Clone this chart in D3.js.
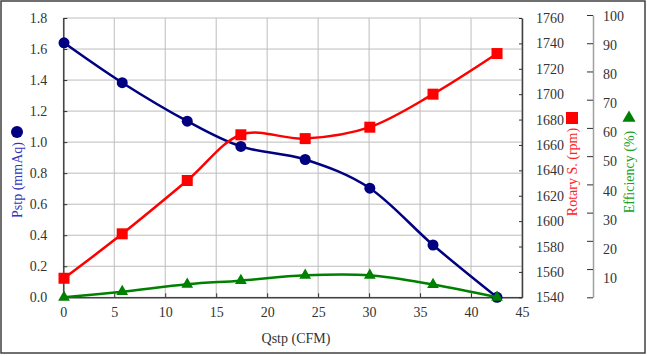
<!DOCTYPE html>
<html><head><meta charset="utf-8">
<script src="https://cdn.jsdelivr.net/npm/d3@7"></script>
<style>
body{margin:0;background:#fff}
svg{display:block}
text{font-family:"Liberation Serif","Times New Roman",serif}
</style>
</head><body>
<svg id="c" width="647" height="356"></svg>
<script>
// ---- data ----
const qstp = [0.07, 5.78, 12.16, 17.42, 23.73, 30.07, 36.27, 42.55];
const pstp = [1.64, 1.383, 1.135, 0.972, 0.888, 0.703, 0.337, 0.0];
const rotary = [1555, 1590, 1632, 1668, 1665, 1674, 1700, 1732];
const efficiency = [0, 2.0, 4.6, 5.9, 7.8, 7.8, 4.5, 0];
const xTicks = [0, 5, 10, 15, 20, 25, 30, 35, 40, 45];
const pTicks = [0, 0.2, 0.4, 0.6, 0.8, 1.0, 1.2, 1.4, 1.6, 1.8];
const rTicks = [1540, 1560, 1580, 1600, 1620, 1640, 1660, 1680, 1700, 1720, 1740, 1760];
const eTicks = [0, 10, 20, 30, 40, 50, 60, 70, 80, 90, 100];
const eLabels = [10, 20, 30, 40, 50, 60, 70, 80, 90, 100];

const FONT = '"Liberation Serif","Times New Roman",serif';
const svg = d3.select("#c");
const L = 63.3, R = 522, T = 18, B = 297.3;
const x = d3.scaleLinear().domain([0, 45]).range([L, R]);
const yP = d3.scaleLinear().domain([0, 1.8]).range([B, T]);
const yR = d3.scaleLinear().domain([1540, 1760]).range([B, T]);
const yE = d3.scaleLinear().domain([0, 100]).range([B, 15]);
const yELab = d3.scaleLinear().domain([0, 100]).range([307, 16]);

// outer frame
svg.append("rect").attr("x", 1).attr("y", 1).attr("width", 644).attr("height", 352)
  .attr("fill", "#fff").attr("stroke", "#404040").attr("stroke-width", 1.5);

// grid
const grid = svg.append("g").attr("stroke", "#bdbdbd").attr("stroke-width", 1);
grid.selectAll(".h").data(pTicks).join("line")
  .attr("x1", L).attr("x2", R).attr("y1", d => yP(d)).attr("y2", d => yP(d));
grid.selectAll(".v").data(xTicks).join("line")
  .attr("y1", T).attr("y2", B).attr("x1", d => x(d)).attr("x2", d => x(d));

const tc = "#333";
function styleAxis(g, lineColor) {
  g.attr("font-family", FONT).attr("font-size", 14);
  g.select(".domain").attr("stroke", lineColor || "#404040").attr("stroke-width", 1.5);
  g.selectAll(".tick line").attr("stroke", "#303030");
  g.selectAll("text").attr("fill", tc).attr("font-family", FONT).attr("font-size", 14);
}

// left axis
const gl = svg.append("g").attr("transform", `translate(${L},0)`)
  .call(d3.axisLeft(yP).tickValues(pTicks).tickFormat(d3.format(".1f")).tickSizeInner(-4).tickSizeOuter(0).tickPadding(16));
styleAxis(gl);

// bottom axis
const gb = svg.append("g").attr("transform", `translate(0,${B})`)
  .call(d3.axisBottom(x).tickValues(xTicks).tickFormat(d3.format("d")).tickSizeInner(-4).tickSizeOuter(0).tickPadding(10));
styleAxis(gb);

// right rotary axis
const gr = svg.append("g").attr("transform", `translate(${R},0)`)
  .call(d3.axisRight(yR).tickValues(rTicks).tickFormat(d3.format("d")).tickSizeInner(-3).tickSizeOuter(0).tickPadding(14));
styleAxis(gr);

// efficiency axis (ticks only, labels separately)
const ge = svg.append("g").attr("transform", `translate(593,0)`)
  .call(d3.axisLeft(yE).tickValues(eTicks).tickFormat("").tickSizeInner(6).tickSizeOuter(0));
styleAxis(ge, "#a0a0a0");
svg.append("g").attr("font-family", FONT).attr("font-size", 14)
  .selectAll("text").data(eLabels).join("text")
  .attr("x", 603).attr("y", d => yELab(d)).attr("dy", "0.35em")
  .attr("fill", tc).text(d => d);

// series
const pts = (ys) => qstp.map((q, i) => [q, ys[i]]);
const mk = (ys) => d3.line().x(d => x(d[0])).y(d => ys(d[1])).curve(d3.curveCardinal.tension(0));

const blue = "#000080", red = "#ff0000", green = "#008000";

svg.append("path").datum(pts(pstp)).attr("d", mk(yP)).attr("fill", "none").attr("stroke", blue).attr("stroke-width", 2.5);
svg.append("g").selectAll("circle").data(pts(pstp)).join("circle")
  .attr("cx", d => x(d[0])).attr("cy", d => yP(d[1])).attr("r", 5.5).attr("fill", blue);

svg.append("path").datum(pts(rotary)).attr("d", mk(yR)).attr("fill", "none").attr("stroke", red).attr("stroke-width", 2.5);
svg.append("g").selectAll("rect").data(pts(rotary)).join("rect")
  .attr("x", d => x(d[0]) - 5.5).attr("y", d => yR(d[1]) - 5.5).attr("width", 11).attr("height", 11).attr("fill", red);

svg.append("path").datum(pts(efficiency)).attr("d", mk(yE)).attr("fill", "none").attr("stroke", green).attr("stroke-width", 2.5);
const tri = d3.symbol().type(d3.symbolTriangle).size(60);
svg.append("g").selectAll("path").data(pts(efficiency)).join("path")
  .attr("transform", d => `translate(${x(d[0])},${yE(d[1])})`).attr("d", tri).attr("fill", green);

// axis titles
const titles = svg.append("g").attr("font-family", FONT).attr("font-size", 14);
titles.append("text").attr("transform", "translate(22,180) rotate(-90)").attr("text-anchor", "middle")
  .attr("fill", "#3333bb").text("Pstp (mmAq)");
svg.append("circle").attr("cx", 17).attr("cy", 132).attr("r", 6).attr("fill", blue);

titles.append("text").attr("transform", "translate(577,172) rotate(-90)").attr("text-anchor", "middle")
  .attr("fill", "#ff2222").text("Rotary S. (rpm)");
svg.append("rect").attr("x", 566).attr("y", 112).attr("width", 12).attr("height", 12).attr("fill", red);

titles.append("text").attr("transform", "translate(634,172) rotate(-90)").attr("text-anchor", "middle")
  .attr("fill", "#22a022").text("Efficiency (%)");
svg.append("path").attr("transform", "translate(629,118)").attr("d", d3.symbol().type(d3.symbolTriangle).size(75)).attr("fill", green);

titles.append("text").attr("x", 296).attr("y", 343).attr("text-anchor", "middle")
  .attr("fill", tc).text("Qstp (CFM)");
</script>
</body></html>
